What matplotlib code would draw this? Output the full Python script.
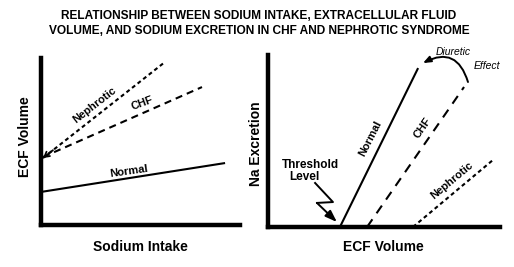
import matplotlib.pyplot as plt

# left panel: ECF volume vs sodium intake
left_normal_x = [0.0, 9.25]
left_normal_y = [1.98, 3.71]
left_chf_x = [0.1, 8.09]
left_chf_y = [4.07, 8.26]
left_nephrotic_x = [0.1, 6.23]
left_nephrotic_y = [4.01, 9.76]

# right panel: Na excretion vs ECF volume
right_normal_x = [3.10, 6.47]
right_normal_y = [0.0, 9.24]
right_chf_x = [4.27, 8.45]
right_chf_y = [0.0, 8.14]
right_nephrotic_x = [6.25, 9.70]
right_nephrotic_y = [0.0, 3.90]

# zigzag pointer for the threshold label
threshold_x = [2.03, 2.80, 2.11, 2.97]
threshold_y = [2.56, 1.45, 1.40, 0.29]

# diuretic shift arrow (from CHF top back to normal top)
diuretic_start = (8.62, 8.43)
diuretic_end = (6.68, 9.53)

title_lines = ["RELATIONSHIP BETWEEN SODIUM INTAKE, EXTRACELLULAR FLUID",
               "VOLUME, AND SODIUM EXCRETION IN CHF AND NEPHROTIC SYNDROME"]

W, H = 514, 267
plt.rcParams['font.family'] = ['Liberation Sans', 'DejaVu Sans']
fig = plt.figure(figsize=(W / 100, H / 100), dpi=100)


def px(x, y):
    return x / W, 1 - y / H


def setup(ax):
    ax.set_xlim(0, 10)
    ax.set_ylim(0, 10)
    for s in ['top', 'right']:
        ax.spines[s].set_visible(False)
    for s in ['left', 'bottom']:
        ax.spines[s].set_linewidth(3.2)
    ax.set_xticks([])
    ax.set_yticks([])
    ax.patch.set_visible(False)


ax1 = fig.add_axes([41 / W, (H - 225) / H, 199 / W, 167 / H])
ax2 = fig.add_axes([268 / W, (H - 227) / H, 232 / W, 172 / H])
setup(ax1)
setup(ax2)

lw = 1.5
ax1.plot(left_normal_x, left_normal_y, color='black', lw=lw, solid_capstyle='butt')
ax1.plot(left_chf_x, left_chf_y, color='black', lw=lw, dashes=(3.4, 2.4))
ax1.plot(left_nephrotic_x, left_nephrotic_y, color='black', lw=lw, dashes=(1.9, 1.5))
ax1.annotate('', xy=(left_nephrotic_x[0], left_nephrotic_y[0]),
             xytext=(left_nephrotic_x[0] + 0.5, left_nephrotic_y[0] + 0.47),
             arrowprops=dict(arrowstyle='->,head_length=0.35,head_width=0.2',
                             color='black', lw=1.3, shrinkA=0, shrinkB=0))

small = dict(fontsize=8, fontweight='bold', ha='center', va='center')
ax1.text(2.71, 7.19, 'Nephrotic', rotation=38, **small)
ax1.text(5.08, 7.31, 'CHF', rotation=20, **small)
ax1.text(4.42, 3.23, 'Normal', rotation=8, **small)

ax2.plot(right_normal_x, right_normal_y, color='black', lw=lw, solid_capstyle='butt')
ax2.plot(right_chf_x, right_chf_y, color='black', lw=lw, dashes=(4.5, 3.5))
ax2.plot(right_nephrotic_x, right_nephrotic_y, color='black', lw=lw, dashes=(1.9, 1.5))

ax2.text(4.40, 5.17, 'Normal', rotation=63, **small)
ax2.text(6.68, 5.76, 'CHF', rotation=55, **small)
ax2.text(7.93, 2.73, 'Nephrotic', rotation=40, **small)

ax2.plot(threshold_x[:3], threshold_y[:3], color='black', lw=1.4)
ax2.annotate('', xy=(threshold_x[3], threshold_y[3]), xytext=(threshold_x[2], threshold_y[2]),
             arrowprops=dict(arrowstyle='-|>,head_length=0.7,head_width=0.25',
                             color='black', lw=1.4, shrinkA=0, shrinkB=0))
ax2.text(1.81, 3.60, 'Threshold', fontsize=8.5, fontweight='bold', ha='center', va='center')
ax2.text(1.55, 2.91, 'Level', fontsize=8.5, fontweight='bold', ha='center', va='center')

ax2.annotate('', xy=diuretic_end, xytext=diuretic_start,
             arrowprops=dict(arrowstyle='-|>,head_length=0.45,head_width=0.18',
                             connectionstyle='arc3,rad=0.6',
                             color='black', lw=1.4, shrinkA=0, shrinkB=0),
             annotation_clip=False)
ax2.text(7.97, 10.17, 'Diuretic', fontsize=7.5, style='italic', ha='center', va='center')
ax2.text(9.44, 9.36, 'Effect', fontsize=7.5, style='italic', ha='center', va='center')

# titles and axis labels
for i, line in enumerate(title_lines):
    fig.text(*px(259, 16 + 15 * i), line, fontsize=8.6, fontweight='bold',
             ha='center', va='center')

lab = dict(fontsize=10, fontweight='bold', ha='center', va='center')
fig.text(*px(25, 137), 'ECF Volume', rotation=90, **lab)
fig.text(*px(140, 247), 'Sodium Intake', **lab)
fig.text(*px(256, 144), 'Na Excretion', rotation=90, **lab)
fig.text(*px(383, 247), 'ECF Volume', **lab)

fig.savefig('out.png', dpi=100)
